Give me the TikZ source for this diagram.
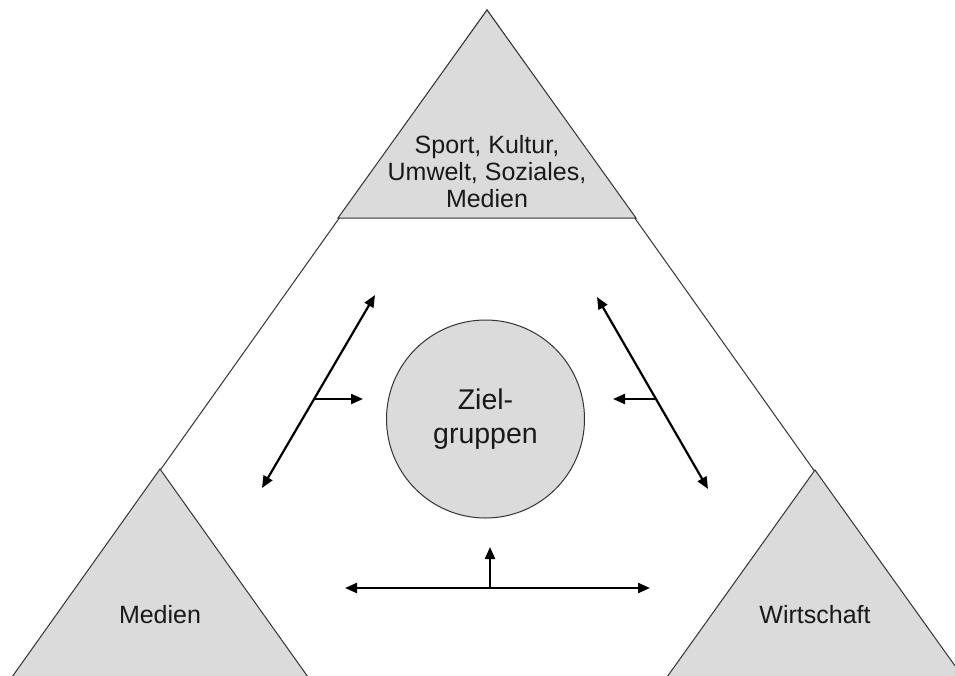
\documentclass[tikz,border=0pt]{standalone}
\usepackage{fontspec}
\setmainfont{Liberation Sans}
\usetikzlibrary{arrows.meta}
\tikzset{%
  field/.style = {fill=black!14,draw=black!80,line width=1pt},
  rim/.style = {draw=black!80,line width=1pt},
  twoarrow/.style = {{Triangle[length=12pt,width=10pt]}-{Triangle[length=12pt,width=10pt]},
        line width=2.2pt},
  onearrow/.style = {-{Triangle[length=12pt,width=10pt]},line width=2.2pt},
  lbl/.style = {align=center,text=black!90,font=\fontsize{25}{27}\selectfont},
  zg/.style = {circle,draw=black!80,fill=black!14,line width=1pt,text=black!90,
        minimum size=198pt,align=center,font=\fontsize{28.5}{34}\selectfont}
}

\begin{document}
\begin{tikzpicture}[x=1pt,y=-1pt]
    \useasboundingbox (0,0) rectangle (955,675);
    \clip (0,0) rectangle (955,675);

    % outer triangle
    \coordinate (top) at (487,10);
    \coordinate (bl) at (14,676);
    \coordinate (br) at (960,676);
    \draw[rim] (bl) -- (top) -- (br);

    % the three corners
    \draw[field] (top) -- (636,218) -- (338,218) -- cycle;
    \draw[field] (160,469) -- (308,677) -- (12,677) -- cycle;
    \draw[field] (815,470) -- (963,677) -- (667,677) -- cycle;

    \node[lbl] (sport) at (487,172) {Sport, Kultur,\\Umwelt, Soziales,\\Medien};
    \node[lbl] (medien) at (160,615) {Medien};
    \node[lbl] (wirtschaft) at (815,615) {Wirtschaft};

    % centre
    \node[zg] (ziel) at (485.5,419) {Ziel-\\gruppen};

    % arrows
    \coordinate (l1) at (375,295);
    \coordinate (l2) at (262,488);
    \coordinate (lm) at (314,399);
    \coordinate (le) at (363,399);
    \coordinate (r1) at (597,297);
    \coordinate (r2) at (708,489);
    \coordinate (rm) at (656,399);
    \coordinate (re) at (613,399);
    \coordinate (b1) at (345,588);
    \coordinate (b2) at (650,588);
    \coordinate (bm) at (490,588);
    \coordinate (be) at (490,547);

    \draw[twoarrow] (l2) -- (l1);
    \draw[onearrow] (lm) -- (le);
    \draw[twoarrow] (r1) -- (r2);
    \draw[onearrow] (rm) -- (re);
    \draw[twoarrow] (b1) -- (b2);
    \draw[onearrow] (bm) -- (be);
\end{tikzpicture}
\end{document}
